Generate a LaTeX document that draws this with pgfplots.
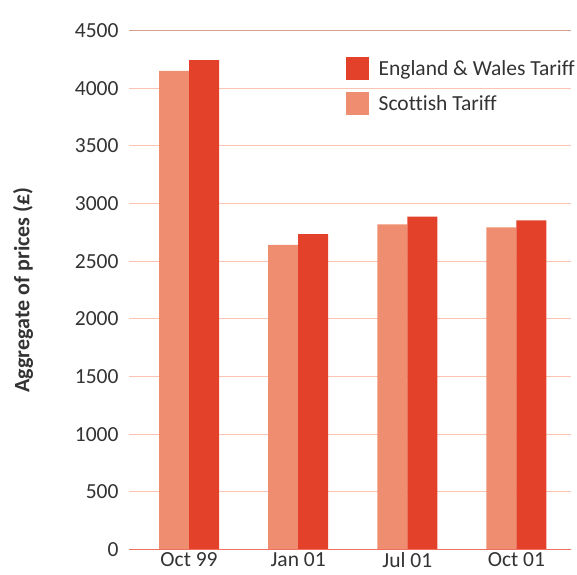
\documentclass[border=0pt]{standalone}
\usepackage{pgfplots}
\pgfplotsset{compat=1.18}
\usepackage{fontspec}
\setmainfont{Carlito}[Ligatures={NoCommon}]
\definecolor{ew}{HTML}{E4412A}
\definecolor{sc}{HTML}{EE8D6F}
\definecolor{gridc}{HTML}{F9C4B0}
\definecolor{topc}{HTML}{D4A08E}
\definecolor{basec}{HTML}{F07060}
\definecolor{txt}{HTML}{333333}
\begin{document}
\begin{tikzpicture}
\begin{axis}[
  scale only axis,
  width=442bp, height=519bp,
  ymin=0, ymax=4500,
  xmin=-0.55, xmax=3.5,
  ytick={0,500,...,4500},
  xtick={0,1,2,3},
  xticklabels={Oct 99,Jan 01,Jul 01,Oct 01},
  axis x line*=bottom,
  axis y line*=left,
  x axis line style={draw=none},
  y axis line style={draw=none},
  ymajorgrids,
  grid style={gridc, line width=1.2bp},
  major tick length=0pt,
  /pgf/number format/assume math mode=true,
  /pgf/number format/1000 sep={},
  tick label style={font=\fontsize{21.5bp}{24bp}\selectfont, text=txt},
  yticklabel style={xshift=-7bp},
  xticklabel style={inner sep=1bp, yshift=-2bp},
  ylabel={\bfseries Aggregate of prices (£)},
  ylabel style={font=\fontsize{22bp}{24bp}\selectfont, text=txt,
    at={(rel axis cs:0,0.5)}, anchor=center, yshift=106bp},
  ybar=0pt,
  bar width=30bp,
  clip=false,
  legend style={draw=none, fill=none, at={(rel axis cs:0.483,0.953)}, anchor=north west,
    font=\fontsize{21.5bp}{24bp}\selectfont, text=txt, row sep=12bp,
    /tikz/every even column/.append style={column sep=5bp}},
  legend cell align=left,
  reverse legend,
  legend image code/.code={\fill[#1] (0bp,-11.5bp) rectangle (23bp,11.5bp);},
]
\addplot[fill=sc, draw=none] coordinates {(0,4149) (1,2641) (2,2819) (3,2794)};
\addlegendentry{\hspace{8bp}Scottish Tariff}
\addplot[fill=ew, draw=none] coordinates {(0,4244) (1,2735) (2,2887) (3,2853)};
\addlegendentry{\hspace{8bp}England \& Wales Tariff}
\draw[topc, line width=1.4bp] (rel axis cs:0,1) -- (rel axis cs:1,1);
\draw[basec, line width=1.4bp] (rel axis cs:0,0) -- (rel axis cs:1,0);
\end{axis}
\pgfresetboundingbox
\path ([shift={(-129bp,-24.7bp)}]current axis.south west) rectangle ([shift={(6bp,30.5bp)}]current axis.north east);
\end{tikzpicture}
\end{document}
